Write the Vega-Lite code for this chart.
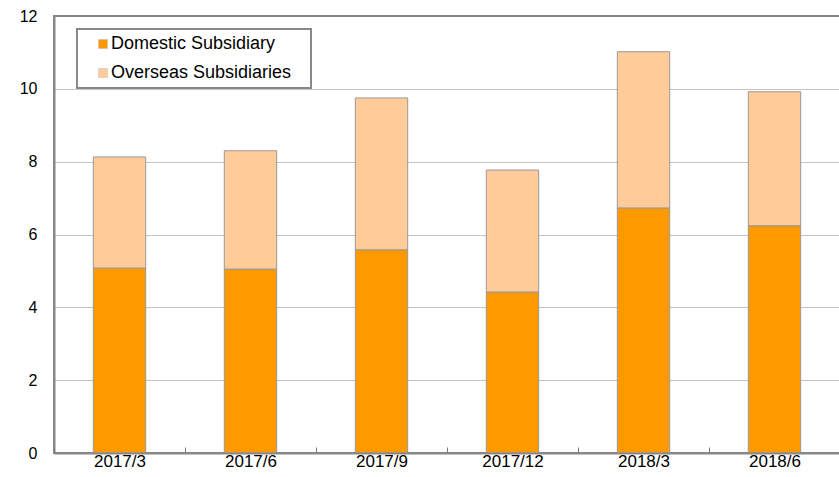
{
  "$schema": "https://vega.github.io/schema/vega-lite/v6.json",
  "autosize": "none",
  "padding": {"left": 54, "top": 16, "right": 0, "bottom": 24},
  "width": 786,
  "height": 437,
  "data": {
    "values": [
      {"period": "2017/3", "type": "Domestic Subsidiary", "value": 5.08},
      {"period": "2017/3", "type": "Overseas Subsidiaries", "value": 3.05},
      {"period": "2017/6", "type": "Domestic Subsidiary", "value": 5.05},
      {"period": "2017/6", "type": "Overseas Subsidiaries", "value": 3.25},
      {"period": "2017/9", "type": "Domestic Subsidiary", "value": 5.58},
      {"period": "2017/9", "type": "Overseas Subsidiaries", "value": 4.17},
      {"period": "2017/12", "type": "Domestic Subsidiary", "value": 4.42},
      {"period": "2017/12", "type": "Overseas Subsidiaries", "value": 3.35},
      {"period": "2018/3", "type": "Domestic Subsidiary", "value": 6.73},
      {"period": "2018/3", "type": "Overseas Subsidiaries", "value": 4.29},
      {"period": "2018/6", "type": "Domestic Subsidiary", "value": 6.24},
      {"period": "2018/6", "type": "Overseas Subsidiaries", "value": 3.68}
    ]
  },
  "mark": {"type": "bar", "stroke": "#999999", "strokeWidth": 1},
  "encoding": {
    "x": {
      "field": "period",
      "type": "nominal",
      "sort": null,
      "scale": {"paddingInner": 0.6, "paddingOuter": 0.3},
      "axis": {
        "title": null,
        "labelAngle": 0,
        "labelFont": "Liberation Sans",
        "labelFontSize": 17,
        "labelColor": "#000000",
        "labelPadding": 6,
        "labelOffset": 65.5,
        "ticks": true,
        "tickOffset": -65.5,
        "tickSize": -6,
        "tickColor": "#777777",
        "tickWidth": 1,
        "domainColor": "#888888",
        "domainWidth": 2,
        "zindex": 1
      }
    },
    "y": {
      "field": "value",
      "type": "quantitative",
      "stack": "zero",
      "scale": {"domain": [0, 12], "nice": false},
      "axis": {
        "title": null,
        "values": [0, 2, 4, 6, 8, 10, 12],
        "ticks": false,
        "labelFont": "Liberation Sans",
        "labelFontSize": 16,
        "labelColor": "#000000",
        "labelPadding": 17,
        "domainColor": "#888888",
        "domainWidth": 2,
        "gridColor": "#888888",
        "gridDash": [1, 1],
        "gridWidth": 1
      }
    },
    "color": {
      "field": "type",
      "type": "nominal",
      "scale": {
        "domain": ["Domestic Subsidiary", "Overseas Subsidiaries"],
        "range": ["#FF9900", "#FFCC99"]
      },
      "legend": {
        "title": "\u00a0",
        "titleOrient": "right",
        "titlePadding": 14,
        "titleFontSize": 18,
        "orient": "none",
        "legendX": 23,
        "legendY": 13,
        "symbolType": "square",
        "symbolSize": 81,
        "symbolStrokeColor": "#bbbbbb",
        "symbolStrokeWidth": 0.5,
        "symbolOffset": 11,
        "labelOffset": -1,
        "labelFont": "Liberation Sans",
        "labelFontSize": 18,
        "labelLimit": 400,
        "labelColor": "#000000",
        "rowPadding": 11,
        "padding": 6,
        "strokeColor": "#888888",
        "fillColor": "#ffffff",
        "encode": {"legend": {"update": {"strokeWidth": {"value": 2}}}}
      }
    },
    "order": {"field": "type", "sort": "ascending"}
  },
  "config": {
    "view": {"stroke": "#888888", "strokeWidth": 2},
    "axis": {"grid": true},
    "axisX": {"grid": false}
  }
}
